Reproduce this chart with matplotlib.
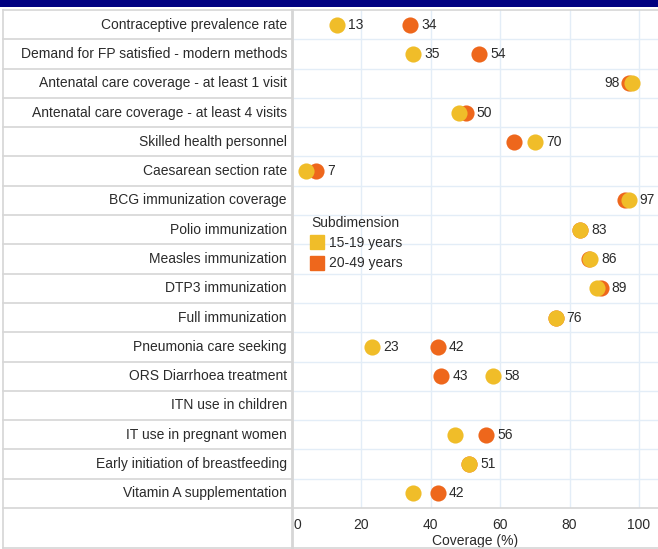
import numpy as np
import matplotlib
matplotlib.use("Agg")
import matplotlib.pyplot as plt
import matplotlib.transforms as mtransforms
from matplotlib.patches import Rectangle
from matplotlib.lines import Line2D

plt.rcParams['font.family'] = ['Liberation Sans', 'DejaVu Sans']

indicators = [
    "Contraceptive prevalence rate",
    "Demand for FP satisfied - modern methods",
    "Antenatal care coverage - at least 1 visit",
    "Antenatal care coverage - at least 4 visits",
    "Skilled health personnel",
    "Caesarean section rate",
    "BCG immunization coverage",
    "Polio immunization",
    "Measles immunization",
    "DTP3 immunization",
    "Full immunization",
    "Pneumonia care seeking",
    "ORS Diarrhoea treatment",
    "ITN use in children",
    "IT use in pregnant women",
    "Early initiation of breastfeeding",
    "Vitamin A supplementation",
]
# nan = no data
age_15_19 = [13, 35, 98, 48, 70, 4, 97, 83, 86, 88, 76, 23, 58, np.nan, 47, 51, 35]
age_20_49 = [34, 54, 97, 50, 64, 7, 96, 83, 85.5, 89, 76, 42, 43, np.nan, 56, 51, 42]
x_ticks = [0, 20, 40, 60, 80, 100]

yellow = "#F0BD29"
orange = "#EE671C"
txt = "#2b2b2b"
row_grey = "#d6d6d6"
row_blue = "#e3edf7"

W, H = 658, 549
fig = plt.figure(figsize=(W / 100, H / 100), dpi=100)

# plot area in pixels
left, right, top, bottom = 292, 658, 10, 508
ax = fig.add_axes([left / W, 1 - bottom / H, (right - left) / W, (bottom - top) / H])

n = len(indicators)
ypos = np.arange(n)
ax.set_ylim(n - 0.5, -0.5)
ax.set_xlim(0, (right - left) / 3.47)

# dark band on top
fig.patches.append(Rectangle((0, 1 - 7 / H), 1, 7 / H, transform=fig.transFigure,
                             facecolor="#000080", edgecolor="none"))

for s in ax.spines.values():
    s.set_visible(False)

# vertical grid
for xv in x_ticks:
    ax.axvline(xv, color=row_blue, lw=1, zorder=0)

# row separators
blend = mtransforms.blended_transform_factory(ax.transAxes, ax.transData)
lab_left = (3 - left) / (right - left)
for i in range(n + 1):
    yy = i - 0.5
    ax.plot([lab_left, 0], [yy, yy], color=row_grey, lw=1.2, transform=blend, clip_on=False)
    if i == 0 or i == n:
        ax.plot([0, 1], [yy, yy], color=row_grey, lw=1.2, transform=blend, clip_on=False)
    else:
        ax.plot([0, 1], [yy, yy], color=row_blue, lw=1, transform=blend, clip_on=False)

# table borders (label column + axis row)
bot_frac = -(548 - bottom) / (bottom - top)
ax.plot([0, 0], [bot_frac, 1], color=row_grey, lw=2, transform=ax.transAxes, clip_on=False)
ax.plot([lab_left, lab_left], [bot_frac, 1], color=row_grey, lw=1.2, transform=ax.transAxes, clip_on=False)
ax.plot([lab_left, 1], [bot_frac, bot_frac], color=row_grey, lw=1.2, transform=ax.transAxes, clip_on=False)

# row labels
for i, name in enumerate(indicators):
    ax.text(-0.014, i, name, transform=blend, ha="right", va="center", fontsize=10, color=txt)

ax.scatter(age_20_49, ypos, s=135, color=orange, zorder=3, label="20-49 years", linewidths=0)
ax.scatter(age_15_19, ypos, s=135, color=yellow, zorder=4, label="15-19 years", linewidths=0)

# value labels; the lower one is dropped when it would run into the other dot
for i in range(n):
    a, b = age_15_19[i], age_20_49[i]
    if np.isnan(a) and np.isnan(b):
        continue
    hi, lo = max(a, b), min(a, b)
    if hi >= 98:
        ax.annotate(f"{hi:.0f}", (lo, i), xytext=(-9, 0), textcoords="offset pixels",
                    ha="right", va="center", fontsize=10, color=txt)
        continue
    ax.annotate(f"{hi:.0f}", (hi, i), xytext=(11, 0), textcoords="offset pixels",
                ha="left", va="center", fontsize=10, color=txt)
    if hi - lo > 10:
        ax.annotate(f"{lo:.0f}", (lo, i), xytext=(11, 0), textcoords="offset pixels",
                    ha="left", va="center", fontsize=10, color=txt)

ax.set_yticks([])
ax.set_xticks(x_ticks)
ax.set_xticklabels([str(t) for t in x_ticks], fontsize=10, color=txt)
ax.tick_params(axis="x", length=0, pad=7)
first = ax.get_xticklabels()[0]
first.set_horizontalalignment("left")
first.set_transform(first.get_transform() + mtransforms.ScaledTranslation(2 / 100, 0, fig.dpi_scale_trans))
ax.set_xlabel("Coverage (%)", fontsize=10, color=txt)
ax.xaxis.set_label_coords(0.5, -0.052)

handles = [Line2D([], [], marker="s", ls="", color=yellow, markersize=10),
           Line2D([], [], marker="s", ls="", color=orange, markersize=10)]
leg = ax.legend(handles, ["15-19 years", "20-49 years"], title="Subdimension",
                loc="upper left", bbox_to_anchor=(311 / W, 1 - 216 / H),
                bbox_transform=fig.transFigure, frameon=False, fontsize=10,
                title_fontsize=10, alignment="left", handlelength=0.9,
                handletextpad=0.4, labelspacing=0.45, borderpad=0, borderaxespad=0)
for t in leg.get_texts():
    t.set_color(txt)
leg.get_title().set_color(txt)

fig.savefig("out.png", dpi=100)
